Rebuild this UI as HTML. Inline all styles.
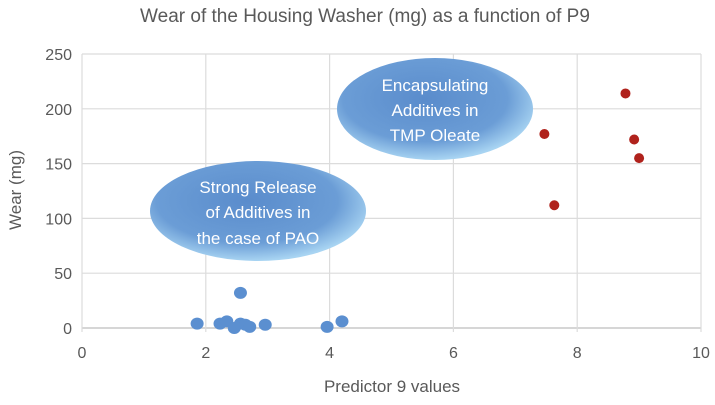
<!DOCTYPE html>
<html><head><meta charset="utf-8"><style>
body{margin:0;background:#fff;}
svg text{font-family:"Liberation Sans",sans-serif;}
</style></head><body>
<svg id="chart" width="715" height="400" xmlns="http://www.w3.org/2000/svg">
<defs>
<radialGradient id="eg" cx="0.45" cy="0.4" r="0.6">
<stop offset="0" stop-color="#5a8ccc"/><stop offset="0.7" stop-color="#6b9dd6"/><stop offset="1" stop-color="#a8d4f2"/>
</radialGradient>
</defs>
<text x="365" y="22" text-anchor="middle" font-size="19" fill="#595959">Wear of the Housing Washer (mg) as a function of P9</text>
<g id="grid"></g>
<g id="ann">
<ellipse cx="435" cy="109" rx="98" ry="51" fill="url(#eg)"/>
<text x="435" y="91" text-anchor="middle" font-size="17" fill="#fff">Encapsulating</text>
<text x="435" y="116" text-anchor="middle" font-size="17" fill="#fff">Additives in</text>
<text x="435" y="141" text-anchor="middle" font-size="17" fill="#fff">TMP Oleate</text>
<ellipse cx="258" cy="211" rx="108" ry="50" fill="url(#eg)"/>
<text x="258" y="193" text-anchor="middle" font-size="17" fill="#fff">Strong Release</text>
<text x="258" y="218" text-anchor="middle" font-size="17" fill="#fff">of Additives in</text>
<text x="258" y="244" text-anchor="middle" font-size="17" fill="#fff">the case of PAO</text>
</g>
<g id="pts"></g>
<text x="392" y="392" text-anchor="middle" font-size="17" fill="#595959">Predictor 9 values</text>
<text transform="translate(21,190) rotate(-90)" text-anchor="middle" font-size="17" fill="#595959">Wear (mg)</text>
</svg>
<script>
const xTicks=[0,2,4,6,8,10];
const yTicks=[0,50,100,150,200,250];
const paoX=[1.86,2.23,2.34,2.46,2.56,2.56,2.64,2.71,2.96,3.96,4.2];
const paoY=[4,4,6,0,32,4,3,1,3,1,6];
const tmpX=[7.47,7.63,8.78,8.92,9.0];
const tmpY=[177,112,214,172,155];
const L=82,R=701,T=54,B=328;
function sx(v){return L+(v-0)/(10-0)*(R-L);}
function sy(v){return B-(v-0)/(250-0)*(B-T);}
const NS="http://www.w3.org/2000/svg";
const g=document.getElementById('grid');
function mk(tag,at,parent){const e=document.createElementNS(NS,tag);for(const k in at)e.setAttribute(k,at[k]);parent.appendChild(e);return e;}
yTicks.forEach(v=>{
 const l=mk('line',{x1:L,x2:R,y1:sy(v),y2:sy(v),stroke:v===0?'#c8c8c8':'#dcdcdc','stroke-width':v===0?1.5:1.2},g);
 
 
 const t=mk('text',{x:L-10,y:sy(v)+6,'text-anchor':'end','font-size':16,fill:'#595959'},g);
 t.textContent=v;
 
 
});
xTicks.forEach(v=>{
 const l=mk('line',{x1:sx(v),x2:sx(v),y1:T,y2:B+4,stroke:'#dcdcdc','stroke-width':1.2},g);
 
 
 const t=mk('text',{x:sx(v),y:B+30,'text-anchor':'middle','font-size':16,fill:'#595959'},g);
 t.textContent=v;
 
 
});
const p=document.getElementById('pts');
paoX.forEach((x,i)=>{
 const c=mk('ellipse',{cx:sx(x),cy:sy(paoY[i]),rx:6.5,ry:6,fill:'#5b8fd0'},p);
 
 
});
tmpX.forEach((x,i)=>{
 const c=mk('ellipse',{cx:sx(x),cy:sy(tmpY[i]),rx:5,ry:5,fill:'#b0221c'},p);
 
 
});
</script>
</body></html>
